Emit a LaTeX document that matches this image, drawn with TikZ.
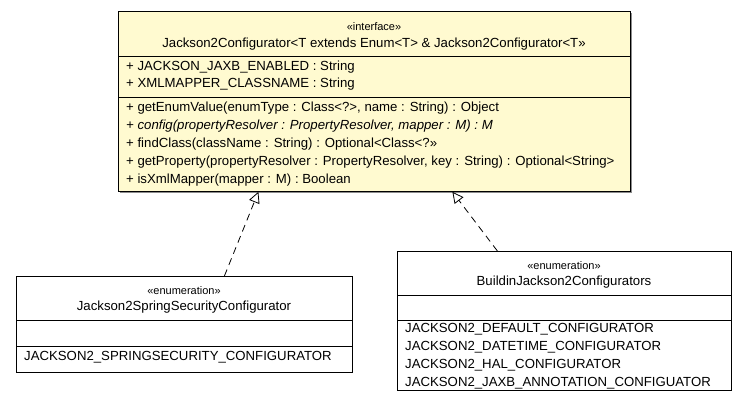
\documentclass[tikz,border=0pt]{standalone}
\usepackage{fontspec}
\setmainfont{Liberation Sans}
\usetikzlibrary{arrows.meta,shadows,calc}
\definecolor{ifill}{RGB}{255,250,208}
\tikzset{
  umlbox/.style={draw=black, line width=0.8pt, rectangle, inner sep=0pt, anchor=north west},
  sep/.style={draw=black, line width=0.8pt},
  stereo/.style={font=\fontsize{11}{12}\selectfont, inner sep=0pt, anchor=center},
  cname/.style={font=\fontsize{13.2}{15}\selectfont, inner sep=0pt, anchor=center},
  member/.style={font=\fontsize{13.2}{15}\selectfont, inner sep=0pt, anchor=west},
  realize/.style={draw=black, line width=0.8pt, dash pattern=on 7pt off 5pt,
    -{Triangle[open, length=11pt, width=11pt, fill=white]}},
}
\begin{document}
\begin{tikzpicture}[x=1pt,y=-1pt]
\useasboundingbox (0,0) rectangle (747,408);
% interface box
\node[umlbox, fill=ifill, minimum width=512pt, minimum height=180pt,
      drop shadow={shadow xshift=2pt, shadow yshift=-2pt, fill=black!45, opacity=1}] (iface) at (118,11) {};
\node[stereo] (ist) at (374,27) {«interface»};
\node[cname] (iname) at (374,44) {Jackson2Configurator<T extends Enum<T> \& Jackson2Configurator<T>>};
\draw[sep] (118,56) -- (630,56);
\node[member] (ia1) at (126,67) {+ JACKSON\_JAXB\_ENABLED : String};
\node[member] (ia2) at (126,84) {+ XMLMAPPER\_CLASSNAME : String};
\draw[sep] (118,97) -- (630,97);
\node[member] (im1) at (126,108) {+ getEnumValue(enumType : Class<?>, name : String) : Object};
\node[member] (im2) at (126,126) {\itshape + config(propertyResolver : PropertyResolver, mapper : M) : M};
\node[member] (im3) at (126,144) {+ findClass(className : String) : Optional<Class<?>>};
\node[member] (im4) at (126,162) {+ getProperty(propertyResolver : PropertyResolver, key : String) : Optional<String>};
\node[member] (im5) at (126,180) {+ isXmlMapper(mapper : M) : Boolean};

% left enumeration
\node[umlbox, fill=white, minimum width=336pt, minimum height=96pt] (lbox) at (16,276) {};
\node[stereo] (lst) at (184,291) {«enumeration»};
\node[cname] (lname) at (184,307) {Jackson2SpringSecurityConfigurator};
\draw[sep] (16,320) -- (352,320);
\draw[sep] (16,346) -- (352,346);
\node[member] (l1) at (24,357) {JACKSON2\_SPRINGSECURITY\_CONFIGURATOR};

% right enumeration
\node[umlbox, fill=white, minimum width=334pt, minimum height=139pt] (rbox) at (397,251) {};
\node[stereo] (rst) at (564,266) {«enumeration»};
\node[cname] (rname) at (564,282) {BuildinJackson2Configurators};
\draw[sep] (397,295) -- (731,295);
\draw[sep] (397,320) -- (731,320);
\node[member] (r1) at (405,329) {JACKSON2\_DEFAULT\_CONFIGURATOR};
\node[member] (r2) at (405,347) {JACKSON2\_DATETIME\_CONFIGURATOR};
\node[member] (r3) at (405,365) {JACKSON2\_HAL\_CONFIGURATOR};
\node[member] (r4) at (405,383) {JACKSON2\_JAXB\_ANNOTATION\_CONFIGUATOR};

% realizations
\draw[realize] ([xshift=40pt]lbox.north) -- ([xshift=-116pt]iface.south);
\draw[realize] ([xshift=-67pt]rbox.north) -- ([xshift=78pt]iface.south);
\end{tikzpicture}
\end{document}
